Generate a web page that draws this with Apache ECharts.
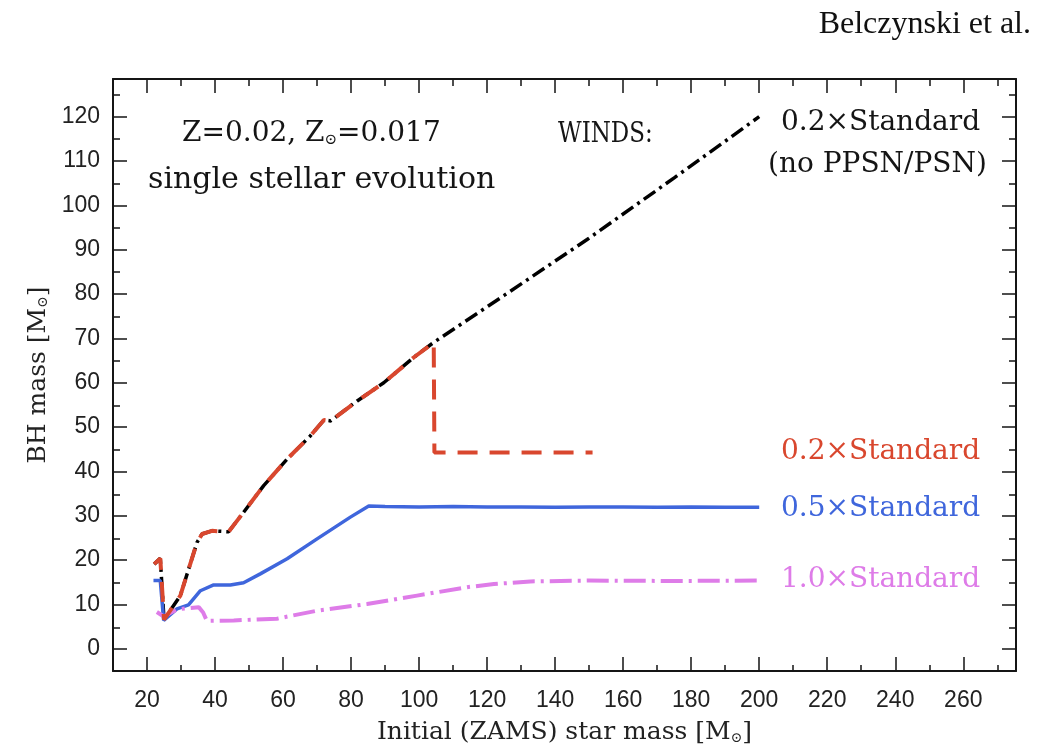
<!DOCTYPE html>
<html><head><meta charset="utf-8">
<script src="https://cdn.jsdelivr.net/npm/echarts@6/dist/echarts.min.js"></script>
<style>html,body{margin:0;padding:0;background:#fff}#c{width:1052px;height:750px}</style>
</head><body><div id="c"></div>
<script>
// ---- tick values ----
const xMajorTicks = [20, 40, 60, 80, 100, 120, 140, 160, 180, 200, 220, 240, 260];
const xMinorTicks = [30, 50, 70, 90, 110, 130, 150, 170, 190, 210, 230, 250, 270];
const yMajorTicks = [0, 10, 20, 30, 40, 50, 60, 70, 80, 90, 100, 110, 120];
const yMinorTicks = [5, 15, 25, 35, 45, 55, 65, 75, 85, 95, 105, 115, 125];

// ---- 0.2 x Standard winds (shared part, with and without PPSN/PSN) ----
const mass02 = [22.1, 23.9, 25.0, 29.8, 34.7, 36.2, 39.1, 44.0, 48.4, 54.3, 61.2, 68.0, 72.0, 74.0, 81.8, 89.6, 98.4, 104.3];
const bh02   = [19.1, 20.4, 6.6, 12.0, 24.0, 25.9, 26.6, 26.4, 30.8, 36.8, 42.8, 48.0, 51.6, 51.4, 55.9, 60.0, 65.7, 69.1];
// no PPSN/PSN continuation
const mass02noPSN = [125, 149.4, 175, 200];
const bh02noPSN   = [79.7, 92.3, 106.2, 120.0];
// with PPSN/PSN
const mass02PSN = [104.5, 151];
const bh02PSN   = [44.3, 44.3];

// ---- 0.5 x Standard winds ----
const mass05 = [21.9, 23.9, 24.9, 28.8, 32.2, 35.7, 39.6, 44.5, 48.4, 53.3, 61.2, 70.0, 79.8, 85.2, 90, 100, 110, 120, 130, 140, 150, 160, 170, 180, 190, 200];
const bh05   = [15.4, 15.4, 6.4, 9.0, 9.9, 13.1, 14.4, 14.4, 14.9, 16.9, 20.3, 24.8, 29.7, 32.2, 32.1, 32.0, 32.1, 32.0, 32.0, 31.9, 32.0, 32.0, 31.9, 32.0, 31.9, 31.9];

// ---- 1.0 x Standard winds ----
const mass10 = [22.9, 24.9, 28.8, 35.2, 36.5, 37.6, 45.5, 58.2, 70.0, 84.7, 99.4, 114.1, 122.0, 132.7, 150, 175, 200];
const bh10   = [8.3, 7.3, 8.9, 9.4, 8.2, 6.3, 6.4, 6.8, 8.6, 10.1, 12.0, 13.9, 14.6, 15.2, 15.4, 15.3, 15.4];

const zip = (xs, ys) => xs.map((x, i) => [x, ys[i]]);

const RED = '#d9472e', BLUE = '#3f66dc', MAG = '#de7ce8', INK = '#151515';
const SERIF = '"DejaVu Serif", serif';
const SANS = '"Liberation Sans", Arial, sans-serif';

const GRID = { left: 113, right: 36, top: 79, bottom: 78 };
const XR = { min: 10, max: 275.5 }, YR = { min: -5, max: 128.5 };

function xAx(gridIndex, position, ticks, len, showLine, showLabel, extra) {
  return Object.assign({
    type: 'value', gridIndex, position, min: XR.min, max: XR.max,
    axisLine: { show: showLine, onZero: false, lineStyle: { color: INK, width: 2 } },
    axisTick: { show: true, inside: true, length: len, customValues: ticks, lineStyle: { color: INK, width: 1.5 } },
    axisLabel: { show: showLabel, customValues: ticks, margin: 18, color: '#222', fontFamily: SANS, fontSize: 23 },
    splitLine: { show: false }
  }, extra || {});
}
function yAx(gridIndex, position, ticks, len, showLine, showLabel, extra) {
  return Object.assign({
    type: 'value', gridIndex, position, min: YR.min, max: YR.max,
    axisLine: { show: showLine, onZero: false, lineStyle: { color: INK, width: 2 } },
    axisTick: { show: true, inside: true, length: len, customValues: ticks, lineStyle: { color: INK, width: 1.5 } },
    axisLabel: { show: showLabel, customValues: ticks, margin: 13, color: '#222', fontFamily: SANS, fontSize: 23 },
    splitLine: { show: false }
  }, extra || {});
}

const nameStyle = {
  fontFamily: SERIF, fontSize: 25, color: '#222',
  rich: { sub: { fontFamily: SERIF, fontSize: 14, verticalAlign: 'bottom', lineHeight: 12, color: '#222' } }
};

const option = {
  animation: false,
  backgroundColor: '#fff',
  title: {
    text: 'Belczynski et al.', right: 16, top: 4,
    textStyle: { fontFamily: '"Liberation Serif", serif', fontWeight: 'normal', fontSize: 32, color: '#111' }
  },
  grid: [Object.assign({}, GRID), Object.assign({}, GRID)],
  xAxis: [
    xAx(0, 'bottom', xMajorTicks, 14, true, true, {
      name: 'Initial (ZAMS) star mass [M{sub|⊙}]', nameLocation: 'middle', nameGap: 49, nameTextStyle: nameStyle
    }),
    xAx(0, 'top', xMajorTicks, 14, true, false),
    xAx(1, 'bottom', xMinorTicks, 7, false, false),
    xAx(1, 'top', xMinorTicks, 7, false, false)
  ],
  yAxis: [
    yAx(0, 'left', yMajorTicks, 14, true, true, {
      name: 'BH mass [M{sub|⊙}]', nameLocation: 'middle', nameGap: 61, nameTextStyle: nameStyle
    }),
    yAx(0, 'right', yMajorTicks, 14, true, false),
    yAx(1, 'left', yMinorTicks, 7, false, false),
    yAx(1, 'right', yMinorTicks, 7, false, false)
  ],
  series: [
    {
      name: '0.2xStandard (no PPSN/PSN)', type: 'line', xAxisIndex: 0, yAxisIndex: 0, z: 2,
      showSymbol: false, symbol: 'none',
      data: zip(mass02, bh02).concat(zip(mass02noPSN, bh02noPSN)),
      lineStyle: { color: '#000', width: 3.5, type: [14, 5, 3, 5], cap: 'butt' }
    },
    {
      name: '0.2xStandard', type: 'line', xAxisIndex: 0, yAxisIndex: 0, z: 3,
      showSymbol: false, symbol: 'none',
      data: zip(mass02, bh02).concat(zip(mass02PSN, bh02PSN)),
      lineStyle: { color: RED, width: 4, type: [20, 12], cap: 'butt' }
    },
    {
      name: '0.5xStandard', type: 'line', xAxisIndex: 0, yAxisIndex: 0, z: 2,
      showSymbol: false, symbol: 'none',
      data: zip(mass05, bh05),
      lineStyle: { color: BLUE, width: 3.5, type: 'solid' }
    },
    {
      name: '1.0xStandard', type: 'line', xAxisIndex: 0, yAxisIndex: 0, z: 2,
      showSymbol: false, symbol: 'none',
      data: zip(mass10, bh10),
      lineStyle: { color: MAG, width: 4, type: [22, 6, 3, 6], cap: 'butt' }
    }
  ],
  graphic: [
    { type: 'text', x: 182, y: 134, style: { text: 'Z=0.02, Z{sub|⊙}=0.017', fontFamily: SERIF, fontSize: 28, fill: INK, verticalAlign: 'middle', rich: { sub: { fontFamily: SERIF, fontSize: 15, verticalAlign: 'bottom', fill: INK } } } },
    { type: 'text', x: 148, y: 180, style: { text: 'single stellar evolution', fontFamily: SERIF, fontSize: 30, fill: INK, verticalAlign: 'middle' } },
    { type: 'text', x: 558, y: 135, scaleY: 1.2, style: { text: 'WINDS:', fontFamily: SERIF, fontSize: 23, fill: INK, verticalAlign: 'middle' } },
    { type: 'text', x: 781, y: 123, style: { text: '0.2×Standard', fontFamily: SERIF, fontSize: 28, fill: INK, verticalAlign: 'middle' } },
    { type: 'text', x: 768, y: 165, style: { text: '(no PPSN/PSN)', fontFamily: SERIF, fontSize: 28, fill: INK, verticalAlign: 'middle' } },
    { type: 'text', x: 781, y: 452, style: { text: '0.2×Standard', fontFamily: SERIF, fontSize: 28, fill: RED, verticalAlign: 'middle' } },
    { type: 'text', x: 781, y: 509, style: { text: '0.5×Standard', fontFamily: SERIF, fontSize: 28, fill: BLUE, verticalAlign: 'middle' } },
    { type: 'text', x: 781, y: 580, style: { text: '1.0×Standard', fontFamily: SERIF, fontSize: 28, fill: MAG, verticalAlign: 'middle' } }
  ]
};

const chart = echarts.init(document.getElementById('c'), null, { renderer: 'canvas' });
chart.setOption(option);
</script>
</body></html>
